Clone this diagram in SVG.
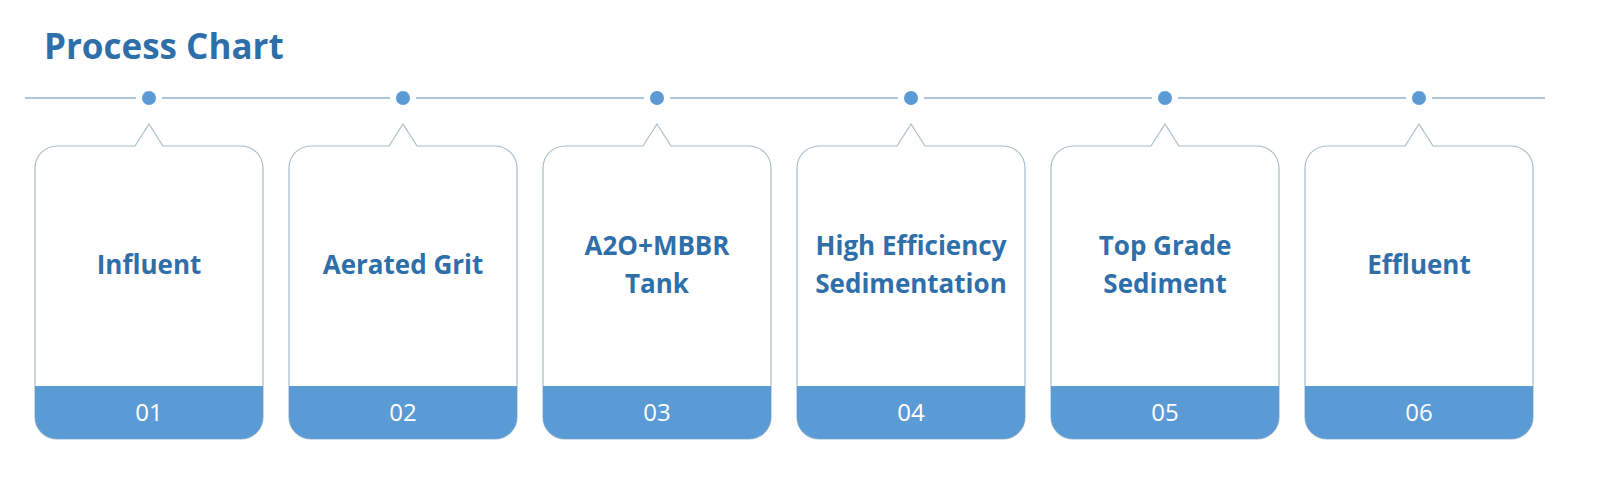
<svg xmlns="http://www.w3.org/2000/svg" width="1600" height="489" viewBox="0 0 1600 489">
<style>
.t{font-family:"Open Sans","Liberation Sans",sans-serif;font-weight:bold;fill:#2f6fa9}
.lbl{font-size:26px;text-anchor:middle}
.num{font-family:"Open Sans","Liberation Sans",sans-serif;font-size:24px;fill:#fff;text-anchor:middle}
.box{fill:#fff;stroke:#a9bcc9;stroke-width:1.2}
.band{fill:#5b9bd5}
.dot{fill:#5b9bd5}
.ln{stroke:#8fb4d6;stroke-width:1.5}
</style>
<defs>
<g id="card">
<path class="box" d="M-114,168 a22,22 0 0 1 22,-22 H-14 L0,124 L14,146 H92 a22,22 0 0 1 22,22 V417 a22,22 0 0 1 -22,22 H-92 a22,22 0 0 1 -22,-22 Z"/>
<path class="band" d="M-114,386 H114 V417 a22,22 0 0 1 -22,22 H-92 a22,22 0 0 1 -22,-22 Z"/>
<circle class="dot" cx="0" cy="98" r="7"/>
</g>
</defs>
<text class="t" x="44" y="59" font-size="35">Process Chart</text>
<g id="connectors">
<line class="ln" x1="25" y1="98" x2="136" y2="98"/>
<line class="ln" x1="162" y1="98" x2="390" y2="98"/>
<line class="ln" x1="416" y1="98" x2="644" y2="98"/>
<line class="ln" x1="670" y1="98" x2="898" y2="98"/>
<line class="ln" x1="924" y1="98" x2="1152" y2="98"/>
<line class="ln" x1="1178" y1="98" x2="1406" y2="98"/>
<line class="ln" x1="1432" y1="98" x2="1545" y2="98"/>
</g>
<g id="n1" transform="translate(149,0)"><use href="#card"/><text class="t lbl" y="274">Influent</text><text class="num" y="421">01</text></g>
<g id="n2" transform="translate(403,0)"><use href="#card"/><text class="t lbl" y="274">Aerated Grit</text><text class="num" y="421">02</text></g>
<g id="n3" transform="translate(657,0)"><use href="#card"/><text class="t lbl" y="255">A2O+MBBR</text><text class="t lbl" y="293">Tank</text><text class="num" y="421">03</text></g>
<g id="n4" transform="translate(911,0)"><use href="#card"/><text class="t lbl" y="255">High Efficiency</text><text class="t lbl" y="293">Sedimentation</text><text class="num" y="421">04</text></g>
<g id="n5" transform="translate(1165,0)"><use href="#card"/><text class="t lbl" y="255">Top Grade</text><text class="t lbl" y="293">Sediment</text><text class="num" y="421">05</text></g>
<g id="n6" transform="translate(1419,0)"><use href="#card"/><text class="t lbl" y="274">Effluent</text><text class="num" y="421">06</text></g>
</svg>
